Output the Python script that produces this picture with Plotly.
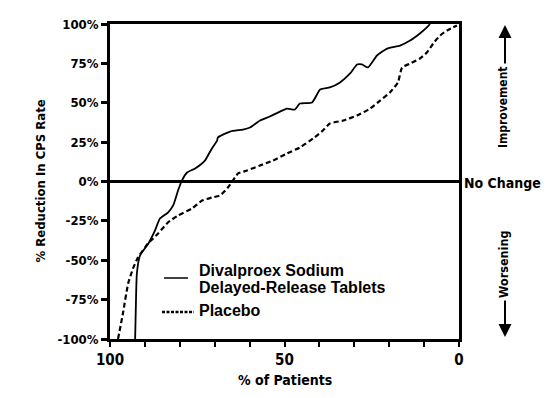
import plotly.graph_objects as go

# Data (x = % of patients, y = % reduction in CPS rate)
divalproex_x = [92.8, 92.6, 92.3, 91.4, 89.0, 87.1, 85.7, 83.4, 81.9, 80.5, 79.4, 77.9, 75.6, 72.8,
                70.8, 69.3, 69.1, 65.6, 61.9, 59.9, 57.0, 54.2, 51.3, 49.3, 47.0, 45.6, 42.1,
                39.8, 37.0, 34.1, 31.2, 29.2, 27.8, 26.1, 23.5, 20.6, 16.9, 14.0, 11.2, 9.2, 8.3]
divalproex_y = [-100, -80, -58.4, -47.0, -39.4, -31.1, -23.5, -19.7, -15.2, -5.7, 0.6, 5.7, 8.3, 13.3,
                21.0, 26.0, 27.9, 31.7, 33.0, 34.3, 38.7, 41.3, 44.4, 46.3, 45.7, 49.5, 50.2,
                58.4, 59.7, 62.9, 68.6, 74.3, 74.3, 72.4, 80.0, 84.4, 86.3, 89.5, 94.0, 97.8, 100]

placebo_x = [97.7, 96.3, 94.8, 93.4, 92.0, 89.1, 86.2, 83.4, 80.5, 76.5, 73.6, 70.8, 68.5, 66.2,
             64.2, 63.3, 60.7, 57.0, 53.3, 49.3, 45.6, 41.8, 39.0, 37.0, 33.2, 29.2, 25.5,
             22.6, 19.8, 17.5, 16.3, 14.0, 11.2, 9.2, 7.4, 5.4, 3.4, 0.6]
placebo_y = [-100, -83.8, -64.8, -55.2, -48.3, -39.4, -33.0, -26.0, -21.6, -17.1, -12.1, -10.2, -8.9, -3.8,
             2.5, 5.1, 7.0, 10.2, 13.3, 17.8, 21.6, 27.3, 32.4, 36.8, 38.7, 41.9, 46.3,
             51.4, 56.5, 62.9, 72.4, 74.9, 78.1, 81.9, 87.6, 92.7, 95.9, 99.0]

y_tick_vals = [100, 75, 50, 25, 0, -25, -50, -75, -100]
y_tick_text = ["100%", "75%", "50%", "25%", "0%", "-25%", "-50%", "-75%", "-100%"]
x_tick_vals = [100, 50, 0]
x_tick_text = ["100", "50", "0"]

COND = "DejaVu Sans Condensed, Liberation Sans Narrow, Arial Narrow, sans-serif"
REG = "Liberation Sans, Arial, sans-serif"

fig = go.Figure()
fig.add_trace(go.Scatter(x=divalproex_x, y=divalproex_y, mode="lines",
                         line=dict(color="black", width=1.8, shape="spline", smoothing=0.5),
                         showlegend=False))
fig.add_trace(go.Scatter(x=placebo_x, y=placebo_y, mode="lines",
                         line=dict(color="black", width=2.2, dash="5px,3px", shape="spline", smoothing=0.5),
                         showlegend=False))

fig.update_layout(
    width=553, height=398,
    margin=dict(l=110, r=94, t=24, b=59),
    paper_bgcolor="white", plot_bgcolor="white",
    font=dict(family=COND, color="black"),
    xaxis=dict(range=[100, 0], showgrid=False, zeroline=False,
               showline=True, linewidth=3, linecolor="black", mirror=True,
               ticks="outside", ticklen=5, tickwidth=2, tickcolor="black",
               tickvals=x_tick_vals, ticktext=x_tick_text,
               minor=dict(dtick=10, ticks="outside", ticklen=5, tickwidth=2, tickcolor="black"),
               tickfont=dict(family=COND, size=15, weight="bold")),
    yaxis=dict(range=[-100, 100], showgrid=False, zeroline=True, zerolinewidth=3,
               zerolinecolor="black",
               showline=True, linewidth=3, linecolor="black", mirror=True,
               ticks="outside", ticklen=6, tickwidth=3, tickcolor="black",
               tickvals=y_tick_vals, ticktext=y_tick_text,
               tickfont=dict(family=COND, size=13, weight="bold")),
)

ann = []
ann.append(dict(text="% of Patients", xref="paper", yref="paper", x=0.5, y=-41/315,
                xanchor="center", yanchor="middle", showarrow=False,
                font=dict(family=COND, size=14, weight="bold")))
ann.append(dict(text="% Reduction In CPS Rate", xref="paper", yref="paper", x=-70/349, y=0.5,
                xanchor="center", yanchor="middle", showarrow=False, textangle=-90,
                font=dict(family=COND, size=13, weight="bold")))
ann.append(dict(text="No Change", xref="paper", yref="y", x=1.008, y=-1,
                xanchor="left", yanchor="middle", showarrow=False,
                font=dict(family=COND, size=14, weight="bold")))
ann.append(dict(text="Improvement", xref="paper", yref="paper", x=(503 - 110) / 349, y=(339 - 107) / 315,
                xanchor="center", yanchor="middle", showarrow=False, textangle=-90,
                font=dict(family=COND, size=12, weight="bold")))
ann.append(dict(text="Worsening", xref="paper", yref="paper", x=(503 - 110) / 349, y=(339 - 265) / 315,
                xanchor="center", yanchor="middle", showarrow=False, textangle=-90,
                font=dict(family=COND, size=12.5, weight="bold")))
# arrows
ann.append(dict(text="", xref="paper", yref="paper", x=(505 - 110) / 349, y=(339 - 25) / 315,
                ax=0, ay=40, showarrow=True, arrowhead=2, arrowsize=1.3, arrowwidth=2, arrowcolor="black"))
ann.append(dict(text="", xref="paper", yref="paper", x=(505 - 110) / 349, y=(339 - 337) / 315,
                ax=0, ay=-38, showarrow=True, arrowhead=2, arrowsize=1.3, arrowwidth=2, arrowcolor="black"))
# legend texts
ann.append(dict(text="Divalproex Sodium", xref="paper", yref="paper", x=(197 - 110) / 349, y=(339 - 270) / 315,
                xanchor="left", yanchor="middle", showarrow=False,
                font=dict(family=REG, size=16, weight="bold")))
ann.append(dict(text="Delayed-Release Tablets", xref="paper", yref="paper", x=(197 - 110) / 349, y=(339 - 287) / 315,
                xanchor="left", yanchor="middle", showarrow=False,
                font=dict(family=REG, size=16, weight="bold")))
ann.append(dict(text="Placebo", xref="paper", yref="paper", x=(197 - 110) / 349, y=(339 - 310) / 315,
                xanchor="left", yanchor="middle", showarrow=False,
                font=dict(family=REG, size=16, weight="bold")))
fig.update_layout(annotations=ann)

fig.add_shape(type="line", xref="paper", yref="paper",
              x0=(164 - 110) / 349, x1=(188 - 110) / 349, y0=(339 - 278) / 315, y1=(339 - 278) / 315,
              line=dict(color="black", width=1.5))
fig.add_shape(type="line", xref="paper", yref="paper",
              x0=(162 - 110) / 349, x1=(194 - 110) / 349, y0=(339 - 312) / 315, y1=(339 - 312) / 315,
              line=dict(color="black", width=2.5, dash="3px,1.5px"))

fig.write_html("out.html", config={"displayModeBar": False},
               post_script="document.body.style.margin='0';")
